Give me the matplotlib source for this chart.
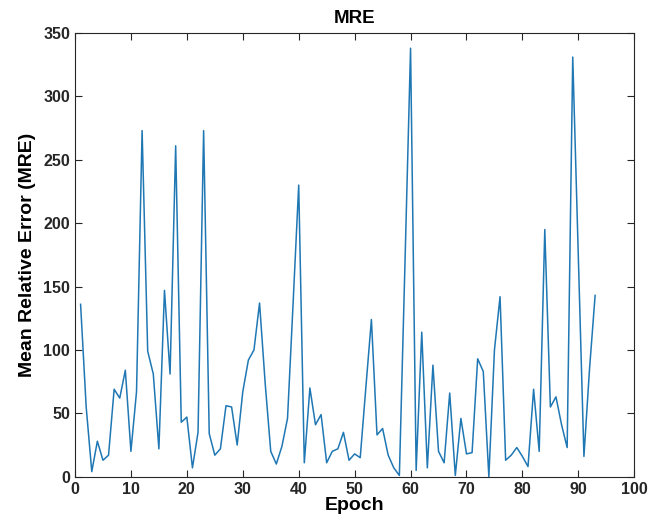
import numpy as np
import matplotlib
matplotlib.use("Agg")
import matplotlib.pyplot as plt

plt.rcParams['font.family'] = ['Liberation Sans', 'DejaVu Sans']

epoch = np.arange(1, 94)
mre = [136, 55, 4, 28, 13, 17, 69, 62, 84, 20,
       67, 273, 99, 81, 22, 147, 81, 261, 43, 47,
       7, 35, 273, 34, 17, 22, 56, 55, 25, 67,
       92, 100, 137, 74, 20, 10, 24, 46, 137, 230,
       11, 70, 41, 49, 11, 20, 22, 35, 13, 18,
       15, 70, 124, 33, 38, 17, 7, 1, 168, 338,
       5, 114, 7, 88, 20, 11, 66, 1, 46, 18,
       19, 93, 83, 0, 100, 142, 13, 17, 23, 16,
       8, 69, 20, 195, 55, 63, 41, 23, 331, 173,
       16, 85, 143]

fig = plt.figure(figsize=(6.51, 5.26), dpi=100)
ax = fig.add_axes([0.1152, 0.0937, 0.8591, 0.8436])
ax.plot(epoch, mre, color='#1f77b4', linewidth=1.1)

ax.set_xlim(0, 100)
ax.set_ylim(0, 350)
ax.set_xticks(np.arange(0, 101, 10))
ax.set_yticks(np.arange(0, 351, 50))
ax.tick_params(direction='in', top=True, right=True, length=5,
               labelsize=11.5, colors='#262626')
for lbl in ax.get_xticklabels() + ax.get_yticklabels():
    lbl.set_fontweight('bold')
for s in ax.spines.values():
    s.set_color('#262626')
    s.set_linewidth(0.8)

ax.set_title("MRE", fontsize=13.5, fontweight='bold', pad=7)
ax.set_xlabel("Epoch", fontsize=14, fontweight='bold', labelpad=0)
ax.set_ylabel("Mean Relative Error (MRE)", fontsize=14, fontweight='bold', labelpad=5)

fig.savefig("out.png", dpi=100)
